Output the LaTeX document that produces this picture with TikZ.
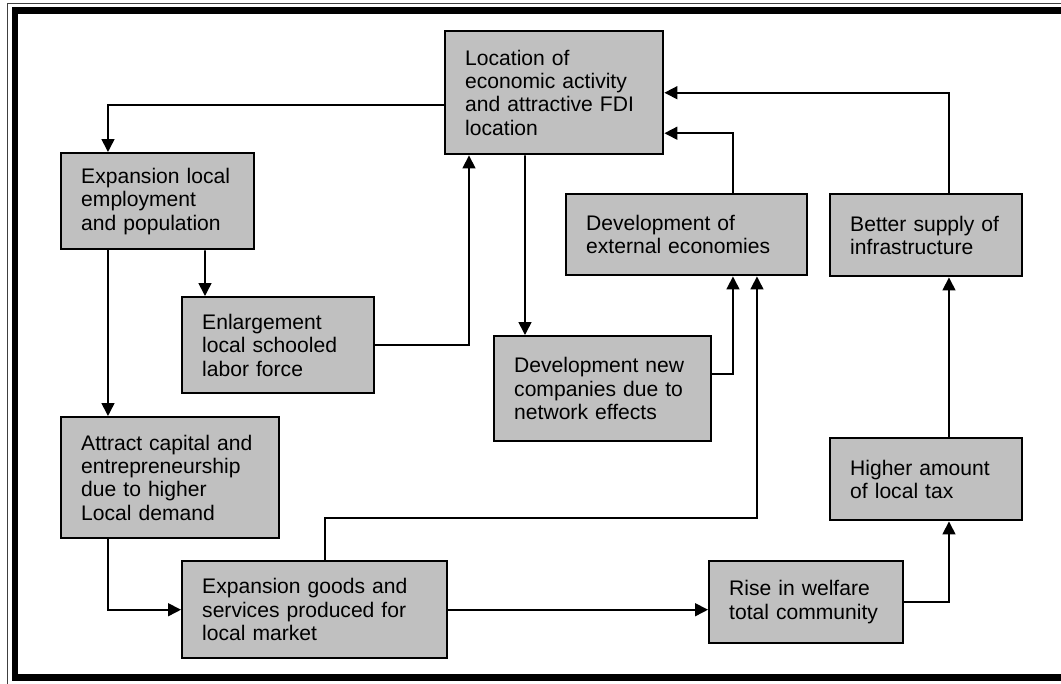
\documentclass[tikz,border=0pt]{standalone}
\usepackage{fontspec}
\setmainfont{Liberation Sans}
\usepackage{xcolor}
\usetikzlibrary{arrows.meta}

\definecolor{boxgray}{RGB}{192,192,192}

\begin{document}
\begin{tikzpicture}[
    x=0.02cm, y=-0.02cm,
    box/.style={
        rectangle,
        draw,
        fill=boxgray,
        line width=1.4pt,
        anchor=north west,
        align=left,
        inner xsep=0.4cm,
        inner ysep=0pt,
        font=\fontsize{12}{13.3}\selectfont
    },
    arrow/.style={-{Triangle[length=0.26cm,width=0.26cm]}, line width=0.9pt}
]

\useasboundingbox (0,0) rectangle (1061,683);
\clip (0,0) rectangle (1061,683);

% page frame
\draw[line width=0.6pt, black!75] (7.3,700) -- (7.3,3.3) -- (1080,3.3);
\draw[line width=0.14cm] (15,10.5) rectangle (1080,677);

\node[box, text width=3.56cm, minimum height=2.46cm] (location) at (444,30) {
    Location of\\economic activity\\and attractive FDI\\location
};

\node[box, text width=3.06cm, minimum height=1.92cm] (employ) at (60,152) {
    Expansion local\\employment\\and population
};

\node[box, text width=3.04cm, minimum height=1.92cm] (labor) at (181,296) {
    Enlargement\\local schooled\\labor force
};

\node[box, text width=3.56cm, minimum height=2.42cm] (capital) at (60,416) {
    Attract capital and\\entrepreneurship\\due to higher\\Local demand
};

\node[box, text width=4.5cm, minimum height=1.94cm] (goods) at (181,560) {
    Expansion goods and\\services produced for\\local market
};

\node[box, text width=4.02cm, minimum height=1.62cm] (external) at (565,193) {
    Development of\\external economies
};

\node[box, text width=3.54cm, minimum height=2.1cm] (companies) at (493,335) {
    Development new\\companies due to\\network effects
};

\node[box, text width=3.04cm, minimum height=1.64cm] (infra) at (829,193) {
    Better supply of\\infrastructure
};

\node[box, text width=3.04cm, minimum height=1.64cm] (tax) at (829,437) {
    Higher amount\\of local tax
};

\node[box, text width=3.08cm, minimum height=1.64cm] (welfare) at (708,560) {
    Rise in welfare\\total community
};

\draw[arrow] ([yshift=-0.25cm]location.west) -| ([xshift=0.96cm]employ.north west);
\draw[arrow] ([xshift=2.9cm]employ.south west) -- ([xshift=0.48cm]labor.north west);
\draw[arrow] ([xshift=0.96cm]employ.south west) -- ([xshift=0.96cm]capital.north west);
\draw[arrow] (labor.east) -| ([xshift=0.5cm]location.south west);
\draw[arrow] ([xshift=1.62cm]location.south west) -- ([xshift=0.64cm]companies.north west);
\draw[arrow] ([yshift=-0.78cm]companies.north east) -| ([xshift=3.36cm]external.south west);
\draw[arrow] ([xshift=3.36cm]external.north west) |- ([yshift=-0.81cm]location.east);
\draw[arrow] ([xshift=2.4cm]infra.north west) |- (location.east);
\draw[arrow] ([xshift=0.96cm]capital.south west) |- (goods.west);
\draw[arrow] ([xshift=2.88cm]goods.north west) -- ++(0,0.84cm) -| ([xshift=3.84cm]external.south west);
\draw[arrow] (goods.east) -- (goods.east -| welfare.west);
\draw[arrow] (welfare.east) -| ([xshift=2.4cm]tax.south west);
\draw[arrow] ([xshift=2.4cm]tax.north west) -- ([xshift=2.4cm]infra.south west);

\end{tikzpicture}
\end{document}
